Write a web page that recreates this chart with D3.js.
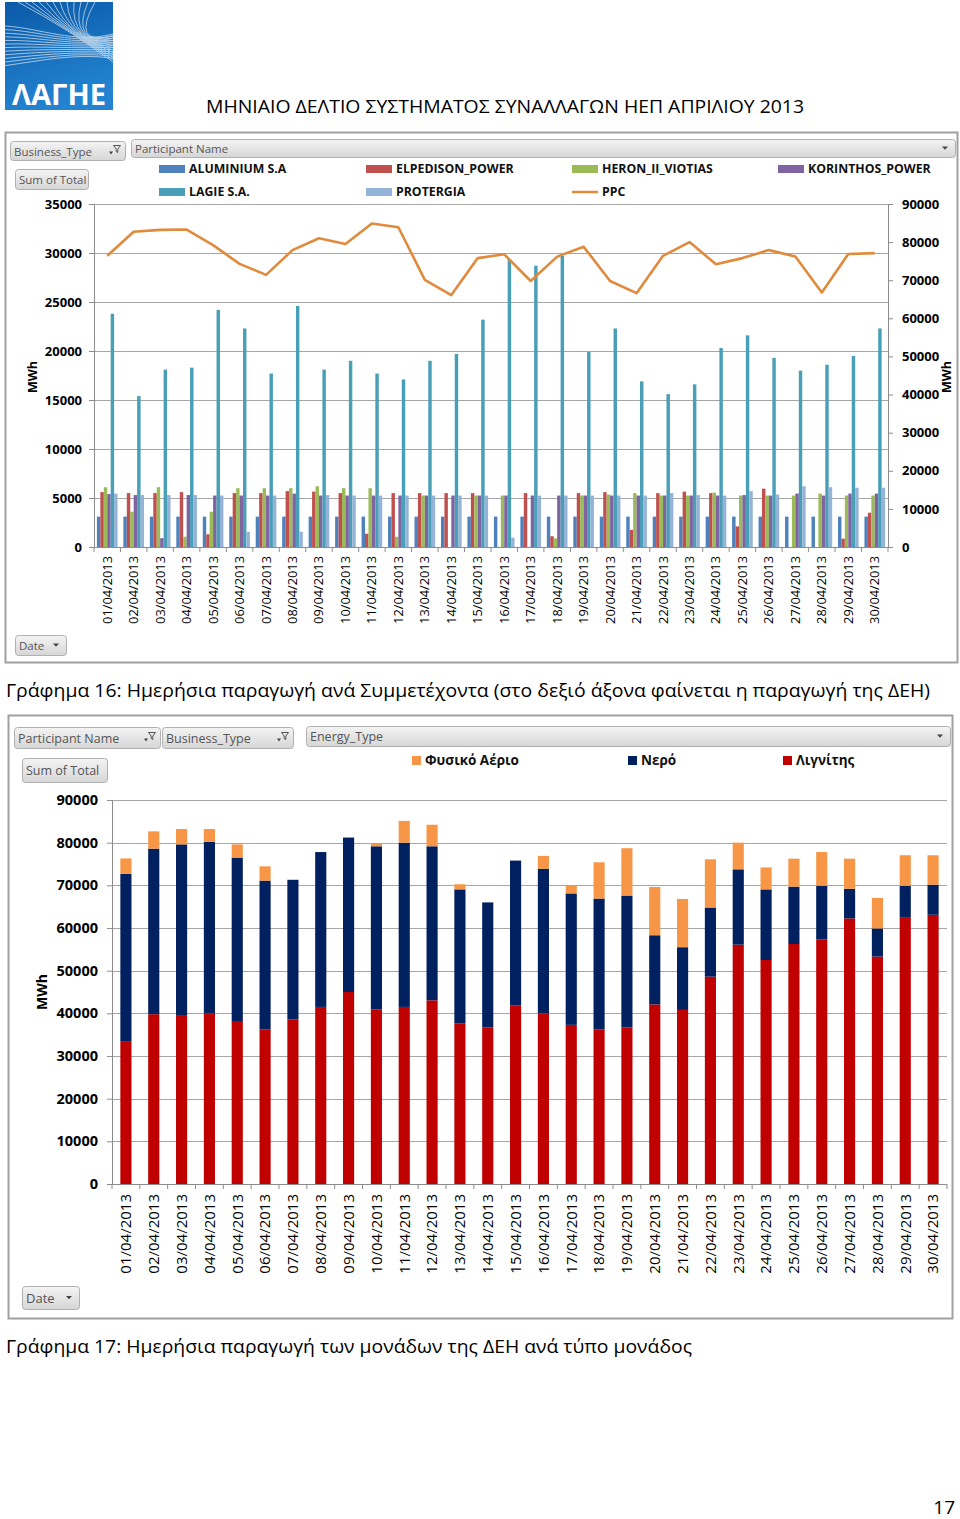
<!DOCTYPE html>
<html><head><meta charset="utf-8">
<script src="https://cdn.jsdelivr.net/npm/d3@7"></script>
<style>
body{margin:0;background:#fff;}
svg{display:block;}
text{font-family:"Open Sans","Noto Sans",sans-serif;}
</style>
</head><body>
<svg id="c" width="960" height="1519"></svg>
<script>
// ---------- DATA ----------
const dates = ["01/04/2013","02/04/2013","03/04/2013","04/04/2013","05/04/2013","06/04/2013","07/04/2013","08/04/2013","09/04/2013","10/04/2013",
"11/04/2013","12/04/2013","13/04/2013","14/04/2013","15/04/2013","16/04/2013","17/04/2013","18/04/2013","19/04/2013","20/04/2013",
"21/04/2013","22/04/2013","23/04/2013","24/04/2013","25/04/2013","26/04/2013","27/04/2013","28/04/2013","29/04/2013","30/04/2013"];

const participants = ["ALUMINIUM S.A","ELPEDISON_POWER","HERON_II_VIOTIAS","KORINTHOS_POWER","LAGIE S.A.","PROTERGIA"];
const participantColors = ["#4F81BD","#C0504D","#9BBB59","#8064A2","#4A9FB8","#95B3D7"];
const ppcName = "PPC";
const ppcColor = "#E08A3C";

const aluminium = [3100,3100,3100,3100,3100,3100,3100,3100,3100,3100,3100,3100,3100,3100,3100,3100,3100,3100,3100,3100,3100,3100,3100,3100,3100,3100,3100,3100,3100,3100];
const elpedison = [5600,5500,5500,5600,1300,5500,5500,5700,5650,5500,1350,5500,5500,5500,5500,0,5500,1100,5500,5600,1750,5500,5650,5500,2100,5950,0,0,850,3500];
const heron = [6100,3600,6100,1050,3600,6000,6000,6000,6200,6000,6000,1050,5250,0,5250,5250,0,880,5250,5350,5500,5250,5250,5550,5250,5250,5250,5450,5250,5250];
const korinthos = [5400,5300,900,5300,5250,5250,5250,5450,5250,5250,5250,5250,5250,5250,5250,5250,5250,5250,5250,5250,5250,5250,5250,5250,5300,5250,5450,5250,5450,5450];
const lagie = [23800,15400,18100,18300,24200,22300,17700,24600,18100,19000,17700,17100,19000,19700,23200,29300,28700,29700,19900,22300,16900,15600,16600,20300,21600,19300,18000,18600,19500,22300];
const protergia = [5450,5300,5300,5300,5250,1550,5250,1550,5300,5250,5250,5250,5250,5250,5250,950,5250,5250,5250,5250,5250,5500,5300,5250,5700,5350,6200,6100,6050,6050];
const ppc = [76400,82700,83200,83300,79200,74300,71400,77900,81000,79500,84900,83900,70100,66100,75800,76800,69800,76200,78800,69800,66600,76400,80000,74200,75800,77900,76200,66800,76900,77100];

const leftTicks1 = [0,5000,10000,15000,20000,25000,30000,35000];
const rightTicks1 = [0,10000,20000,30000,40000,50000,60000,70000,80000,90000];

const energyTypes = ["Φυσικό Αέριο","Νερό","Λιγνίτης"];
const energyColors = ["#F79646","#002060","#C00000"];
const lignite = [33500,39800,39600,40000,38000,36250,38600,41500,45000,40950,41500,43050,37600,36700,41900,40000,37300,36200,36700,42100,40800,48600,56100,52500,56250,57350,62250,53300,62400,63100];
const hydro = [39200,38800,40000,40200,38500,34850,32700,36300,36200,38200,38500,36100,31450,29300,33900,33900,30800,30700,30900,16200,14700,16200,17650,16550,13450,12550,6950,6600,7500,7050];
const gas = [3600,4050,3600,3000,3100,3350,0,0,0,550,5100,5050,1200,0,0,3000,1750,8500,11100,11300,11300,11300,6250,5150,6550,7900,7050,7150,7150,6900];
const ticks2 = [0,10000,20000,30000,40000,50000,60000,70000,80000,90000];

// ---------- DRAW ----------
const svg = d3.select("#c");
const defs = svg.append("defs");
const lg = defs.append("linearGradient").attr("id","logoGrad").attr("x1",0).attr("y1",0).attr("x2",0.3).attr("y2",1);
lg.append("stop").attr("offset","0%").attr("stop-color","#0a5aa8");
lg.append("stop").attr("offset","100%").attr("stop-color","#2383d0");
const bg = defs.append("linearGradient").attr("id","btnGrad").attr("x1",0).attr("y1",0).attr("x2",0).attr("y2",1);
bg.append("stop").attr("offset","0%").attr("stop-color","#f4f4f4");
bg.append("stop").attr("offset","100%").attr("stop-color","#d6d6d6");

// Logo
const logo = svg.append("g");
logo.append("rect").attr("x",5).attr("y",2).attr("width",108).attr("height",108).attr("fill","url(#logoGrad)");
const logoLines = logo.append("g").attr("fill","none").attr("stroke","#ffffff").attr("stroke-width",0.8).attr("opacity",0.75);
d3.range(12).forEach(i=>{
  logoLines.append("path").attr("d",`M5,${26+i*3.6} C40,${28+i*3} 75,${44+i*0.8} 113,${34+i*2.2}`);
  logoLines.append("path").attr("d",`M${18+i*7},2 Q70,${30+i*1.5} 113,${62-i*2.4}`);
});
logo.append("text").attr("x",12).attr("y",105).attr("font-size",28).attr("font-weight","bold").attr("fill","#fff")
  .attr("textLength",94).attr("lengthAdjust","spacingAndGlyphs").text("ΛΑΓΗΕ");

// Title
svg.append("text").attr("x",206).attr("y",113).attr("font-size",19).attr("fill","#000")
  .attr("textLength",598).attr("lengthAdjust","spacingAndGlyphs")
  .text("ΜΗΝΙΑΙΟ ΔΕΛΤΙΟ ΣΥΣΤΗΜΑΤΟΣ ΣΥΝΑΛΛΑΓΩΝ ΗΕΠ ΑΠΡΙΛΙΟΥ 2013");

// button helper
function btn(g,x,y,w,h,label,icon,fs){
  g.append("rect").attr("x",x+0.5).attr("y",y+0.5).attr("width",w).attr("height",h).attr("rx",3)
    .attr("fill","url(#btnGrad)").attr("stroke","#b0b0b0");
  g.append("text").attr("x",x+4).attr("y",y+h/2+1).attr("dy","0.35em").attr("font-size",fs||11.5)
    .attr("fill","#555").attr("font-family","'Liberation Sans Narrow','Roboto',sans-serif").text(label);
  if(icon==="filter"){
    const fx=x+w-8, fy=y+h/2;
    g.append("path").attr("d",`M${fx-3.5},${fy-5} L${fx+3.5},${fy-5} L${fx+0.8},${fy-1.5} L${fx+0.8},${fy+2} L${fx-0.8},${fy+1} L${fx-0.8},${fy-1.5} Z`)
      .attr("fill","none").attr("stroke","#444").attr("stroke-width",0.9);
    g.append("path").attr("d",`M${fx-8},${fy+1} L${fx-4},${fy+1} L${fx-6},${fy+4} Z`).attr("fill","#444");
  } else if(icon==="drop"){
    const fx=x+w-10, fy=y+h/2;
    g.append("path").attr("d",`M${fx-3},${fy-1.5} L${fx+3},${fy-1.5} L${fx},${fy+1.8} Z`).attr("fill","#444");
  }
}

// ===== CHART 1 =====
const g1 = svg.append("g");
g1.append("rect").attr("x",5.5).attr("y",132.5).attr("width",952).attr("height",530).attr("fill","none").attr("stroke","#a0a0a0").attr("stroke-width",2);
btn(g1,10,141,115,19,"Business_Type","filter");
btn(g1,131,139,824,18,"Participant Name","drop");
btn(g1,15,169,73,20,"Sum of Total",null);
btn(g1,15,635,51,20,"Date","drop");

const L1={l:94,r:888,t:204,b:547};
const x1 = d3.scaleBand().domain(dates).range([L1.l,L1.r]).paddingInner(0.22).paddingOuter(0.11);
const xs1 = d3.scaleBand().domain(participants).range([0,x1.bandwidth()]);
const yL = d3.scaleLinear().domain([0,35000]).range([L1.b,L1.t]);
const yR = d3.scaleLinear().domain([0,90000]).range([L1.b,L1.t]);

// gridlines
g1.append("g").selectAll("line").data(leftTicks1.filter(d=>d>0)).join("line")
  .attr("x1",L1.l).attr("x2",L1.r).attr("y1",d=>Math.round(yL(d))+0.5).attr("y2",d=>Math.round(yL(d))+0.5)
  .attr("stroke","#a6a6a6");

// bars
const series1 = [aluminium,elpedison,heron,korinthos,lagie,protergia];
participants.forEach((p,si)=>{
  g1.append("g").attr("fill",participantColors[si]).selectAll("rect").data(series1[si]).join("rect")
    .attr("x",(d,i)=>x1(dates[i])+xs1(p)).attr("width",xs1.bandwidth())
    .attr("y",d=>yL(d)).attr("height",d=>L1.b-yL(d));
});

// axes
const axL1 = g1.append("g").attr("transform",`translate(${L1.l},0)`)
  .call(d3.axisLeft(yL).tickValues(leftTicks1).tickSize(5).tickPadding(7).tickFormat(d3.format("d")));
const axR1 = g1.append("g").attr("transform",`translate(${L1.r},0)`)
  .call(d3.axisRight(yR).tickValues(rightTicks1).tickSize(5).tickPadding(9).tickFormat(d3.format("d")));
[axL1,axR1].forEach(a=>{
  a.selectAll("path,line").attr("stroke","#8c8c8c");
  a.selectAll("text").attr("font-size",13).attr("font-weight","bold").attr("fill","#000").attr("font-family","'Open Sans',sans-serif");
});
const axB1 = g1.append("g").attr("transform",`translate(0,${L1.b})`)
  .call(d3.axisBottom(x1).tickSize(0).tickPadding(0));
axB1.select(".domain").attr("stroke","#8c8c8c").attr("d",`M${L1.l},0.5H${L1.r}`);
axB1.selectAll("text").attr("transform","rotate(-90)").attr("text-anchor","end").attr("x",-9).attr("y",0).attr("dy","0.35em")
  .attr("font-size",12.8).attr("fill","#000").attr("font-family","'Open Sans',sans-serif");
const gap1 = (x1.step()-x1.bandwidth())/2;
g1.append("g").selectAll("line").data(dates.concat(["end"])).join("line")
  .attr("x1",(d,i)=> i<dates.length ? x1(d)-gap1 : L1.r).attr("x2",(d,i)=> i<dates.length ? x1(d)-gap1 : L1.r)
  .attr("y1",L1.b).attr("y2",L1.b+5).attr("stroke","#8c8c8c");

// PPC line
const line1 = d3.line().x((d,i)=>x1(dates[i])+x1.bandwidth()/2).y(d=>yR(d));
g1.append("path").datum(ppc).attr("d",line1).attr("fill","none").attr("stroke",ppcColor).attr("stroke-width",2.6).attr("stroke-linejoin","round");

// axis titles
g1.append("text").attr("transform","translate(37,377) rotate(-90)").attr("text-anchor","middle").attr("font-size",12.5).attr("font-weight","bold").text("MWh");
g1.append("text").attr("transform","translate(951,377) rotate(-90)").attr("text-anchor","middle").attr("font-size",12.5).attr("font-weight","bold").text("MWh");

// legend
const legX = [189,396,602,808];
const legItems = participants.map((p,i)=>({name:p,color:participantColors[i],type:"rect"})).concat([{name:ppcName,color:ppcColor,type:"line"}]);
legItems.forEach((it,i)=>{
  const col=i%4, row=Math.floor(i/4);
  const tx=legX[col], ty= row===0?169:192;
  if(it.type==="rect") g1.append("rect").attr("x",tx-30).attr("y",ty-4).attr("width",26).attr("height",8).attr("fill",it.color);
  else g1.append("line").attr("x1",tx-30).attr("x2",tx-4).attr("y1",ty).attr("y2",ty).attr("stroke",it.color).attr("stroke-width",2.5);
  g1.append("text").attr("x",tx).attr("y",ty).attr("dy","0.36em").attr("font-size",12.3).attr("font-weight","bold").attr("fill","#111").text(it.name);
});

// caption 16
svg.append("text").attr("x",6).attr("y",697).attr("font-size",18.5).attr("fill","#000")
  .attr("textLength",924).attr("lengthAdjust","spacingAndGlyphs")
  .text("Γράφημα 16: Ημερήσια παραγωγή ανά Συμμετέχοντα (στο δεξιό άξονα φαίνεται η παραγωγή της ΔΕΗ)");

// ===== CHART 2 =====
const g2 = svg.append("g");
g2.append("rect").attr("x",8.5).attr("y",715.5).attr("width",944).attr("height",603).attr("fill","none").attr("stroke","#a0a0a0").attr("stroke-width",2);
btn(g2,14,727,146,21,"Participant Name","filter",12.5);
btn(g2,162,727,131,21,"Business_Type","filter",12.5);
btn(g2,306,726,644,20,"Energy_Type","drop",12.5);
btn(g2,22,758,85,24,"Sum of Total",null,12.5);
btn(g2,22,1286,57,23,"Date","drop",13);

const L2={l:112,r:947,t:800,b:1184};
const x2 = d3.scaleBand().domain(dates).range([L2.l,L2.r]).paddingInner(0.6).paddingOuter(0.3);
const y2 = d3.scaleLinear().domain([0,90000]).range([L2.b,L2.t]);

g2.append("g").selectAll("line").data(ticks2.filter(d=>d>0)).join("line")
  .attr("x1",L2.l).attr("x2",L2.r).attr("y1",d=>Math.round(y2(d))+0.5).attr("y2",d=>Math.round(y2(d))+0.5)
  .attr("stroke","#a6a6a6");

const table2 = dates.map((d,i)=>({date:d,lignite:lignite[i],hydro:hydro[i],gas:gas[i]}));
const stack2 = d3.stack().keys(["lignite","hydro","gas"])(table2);
const stackColors = {lignite:energyColors[2],hydro:energyColors[1],gas:energyColors[0]};
g2.append("g").selectAll("g").data(stack2).join("g").attr("fill",s=>stackColors[s.key])
  .selectAll("rect").data(s=>s).join("rect")
  .attr("x",d=>x2(d.data.date)).attr("width",x2.bandwidth())
  .attr("y",d=>y2(d[1])).attr("height",d=>y2(d[0])-y2(d[1]));

const axL2 = g2.append("g").attr("transform",`translate(${L2.l},0)`)
  .call(d3.axisLeft(y2).tickValues(ticks2).tickSize(5).tickPadding(9).tickFormat(d3.format("d")));
axL2.selectAll("path,line").attr("stroke","#8c8c8c");
axL2.selectAll("text").attr("font-size",14.5).attr("font-weight","bold").attr("fill","#000").attr("font-family","'Open Sans',sans-serif");
const axB2 = g2.append("g").attr("transform",`translate(0,${L2.b})`)
  .call(d3.axisBottom(x2).tickSize(0).tickPadding(0));
axB2.select(".domain").attr("stroke","#8c8c8c").attr("d",`M${L2.l},0.5H${L2.r}`);
axB2.selectAll("text").attr("transform","rotate(-90)").attr("text-anchor","end").attr("x",-10).attr("y",0).attr("dy","0.35em")
  .attr("font-size",15).attr("fill","#000").attr("font-family","'Open Sans',sans-serif");
const gap2 = (x2.step()-x2.bandwidth())/2;
g2.append("g").selectAll("line").data(dates.concat(["end"])).join("line")
  .attr("x1",(d,i)=> i<dates.length ? x2(d)-gap2 : L2.r).attr("x2",(d,i)=> i<dates.length ? x2(d)-gap2 : L2.r)
  .attr("y1",L2.b).attr("y2",L2.b+5).attr("stroke","#8c8c8c");

g2.append("text").attr("transform","translate(47,992) rotate(-90)").attr("text-anchor","middle").attr("font-size",14).attr("font-weight","bold").text("MWh");

// legend 2
const leg2X = [412,628,783];
energyTypes.forEach((e,i)=>{
  g2.append("rect").attr("x",leg2X[i]).attr("y",756).attr("width",9).attr("height",9).attr("fill",energyColors[i]);
  g2.append("text").attr("x",leg2X[i]+13).attr("y",760.5).attr("dy","0.36em").attr("font-size",13.5).attr("font-weight","bold").attr("fill","#111").text(e);
});

// caption 17
svg.append("text").attr("x",6).attr("y",1353).attr("font-size",18.5).attr("fill","#000")
  .attr("textLength",686).attr("lengthAdjust","spacingAndGlyphs")
  .text("Γράφημα 17: Ημερήσια παραγωγή των μονάδων της ΔΕΗ ανά τύπο μονάδος");

// page number
svg.append("text").attr("x",955).attr("y",1514).attr("text-anchor","end").attr("font-size",19).attr("fill","#000").text("17");
</script>
</body></html>
